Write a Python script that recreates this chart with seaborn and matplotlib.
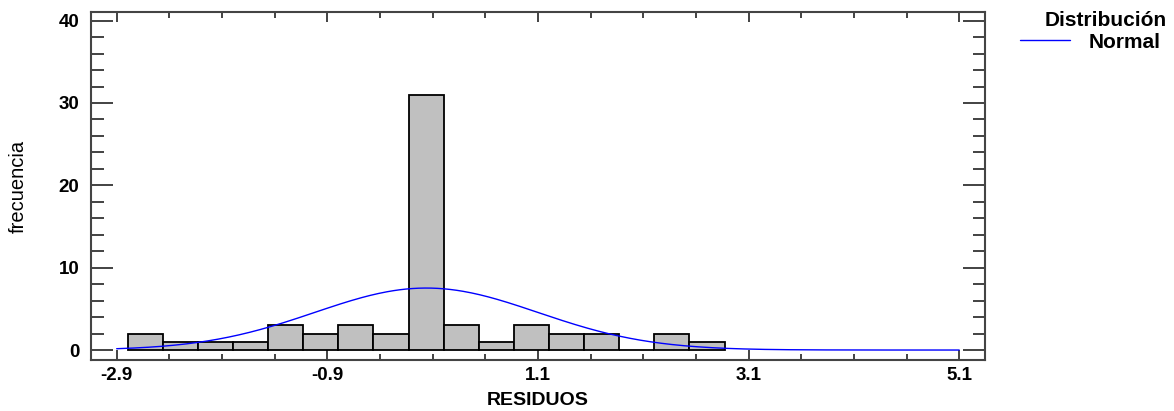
import numpy as np
import matplotlib
matplotlib.use("Agg")
import matplotlib.pyplot as plt
from matplotlib.lines import Line2D
from matplotlib.ticker import MultipleLocator, FixedLocator
import seaborn as sns

# Histogram of residuals (counts)
counts = [2, 1, 1, 1, 3, 2, 3, 2, 31, 3, 1, 3, 2, 2, 0, 2, 1]
first_edge = -2.795
bin_width = 1 / 3
# fitted normal
mu = 0.04
sigma = 1.06
x_ticks = [-2.9, -0.9, 1.1, 3.1, 5.1]

edges = first_edge + bin_width * np.arange(len(counts) + 1)
centers = (edges[:-1] + edges[1:]) / 2
n_total = sum(counts)

sns.set_style("ticks")
plt.rcParams['font.family'] = ['Liberation Sans', 'DejaVu Sans']
plt.rcParams['text.color'] = 'black'
plt.rcParams['axes.labelcolor'] = 'black'
plt.rcParams['xtick.color'] = 'black'
plt.rcParams['ytick.color'] = 'black'

fig = plt.figure(figsize=(11.74, 4.11), dpi=100)
ax = fig.add_axes([0.0775, 0.124, 0.7615, 0.847])

sns.histplot(x=list(centers), weights=counts, bins=list(edges), ax=ax,
             color="#c0c0c0", edgecolor="black", linewidth=1.3, alpha=1)

xs = np.linspace(-2.9, 5.1, 400)
ys = n_total * bin_width * np.exp(-0.5 * ((xs - mu) / sigma) ** 2) / (sigma * np.sqrt(2 * np.pi))
sns.lineplot(x=xs, y=ys, ax=ax, color="#0000ff", linewidth=1.0)

ax.set_xlim(-3.144, 5.345)
ax.set_ylim(-1.215, 41.06)
ax.xaxis.set_major_locator(FixedLocator(x_ticks))
ax.xaxis.set_minor_locator(FixedLocator(np.arange(-2.9, 5.11, 0.5)))
ax.set_xticklabels([str(t) for t in x_ticks])
ax.yaxis.set_major_locator(MultipleLocator(10))
ax.yaxis.set_minor_locator(MultipleLocator(2))

ax.tick_params(axis="x", which="major", direction="in", length=7, width=1.2,
               top=True, labelsize=13.5, pad=5, color="#222222")
ax.tick_params(axis="x", which="minor", direction="in", length=4, width=1.2,
               top=True, color="#222222")
ax.tick_params(axis="y", which="major", direction="in", length=16, width=1.2,
               right=True, labelsize=13.5, pad=8.5, color="#222222")
ax.tick_params(axis="y", which="minor", direction="in", length=9, width=1.2,
               right=True, color="#222222")
for lab in ax.get_xticklabels() + ax.get_yticklabels():
    lab.set_fontweight("bold")

for s in ax.spines.values():
    s.set_visible(True)
    s.set_linewidth(1.5)
    s.set_color("#444444")

ax.set_xlabel("RESIDUOS", fontsize=14, fontweight="bold", labelpad=6)
ax.set_ylabel("frecuencia", fontsize=14.5, labelpad=22)

# legend: title text plus one line entry
fig.text(1167 / 1174, 1 - 20 / 411, "Distribución", ha="right", va="center",
         fontsize=15, fontweight="bold")
handle = Line2D([0], [0], color="#0000ff", linewidth=1.0)
fig.legend([handle], ["Normal"], loc="center right",
           bbox_to_anchor=(1161 / 1174, 1 - 42 / 411),
           frameon=False, borderpad=0, borderaxespad=0,
           handlelength=2.4, handletextpad=0.9,
           prop={"weight": "bold", "size": 15})

fig.savefig("out.png", dpi=100)
